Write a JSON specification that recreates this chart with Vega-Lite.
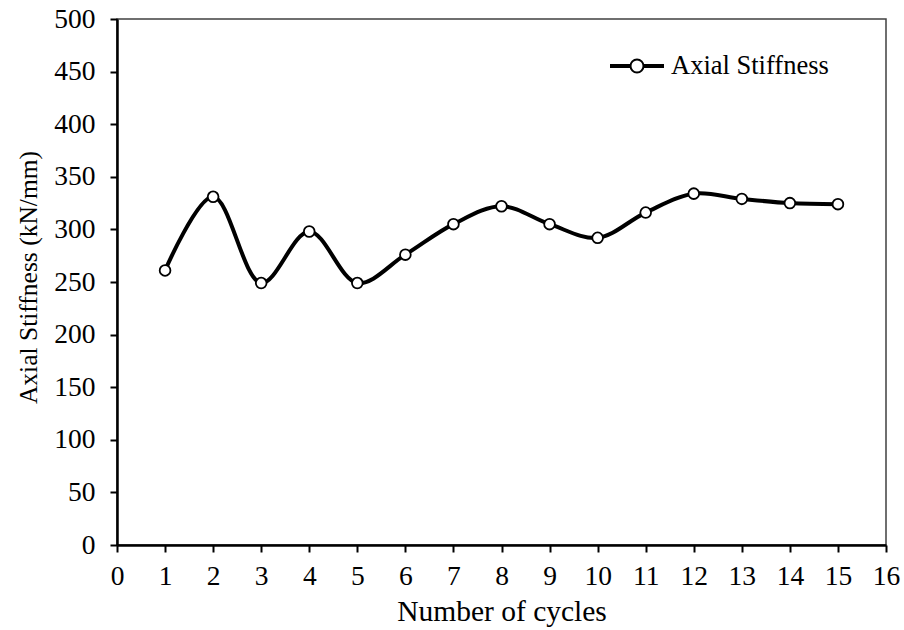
{
  "$schema": "https://vega.github.io/schema/vega-lite/v6.json",
  "width": 769,
  "height": 526,
  "autosize": "none",
  "padding": {"left": 117, "top": 19, "right": 18, "bottom": 85},
  "background": "white",
  "config": {
    "font": "Liberation Serif",
    "view": {"stroke": "#404040", "strokeWidth": 1.5},
    "axis": {
      "grid": false,
      "domainColor": "black",
      "domainWidth": 2.5,
      "tickColor": "black",
      "tickWidth": 2,
      "tickSize": 7,
      "labelColor": "black",
      "labelFont": "Liberation Serif",
      "labelFontSize": 27.5,
      "labelFlush": false,
      "labelOverlap": false,
      "titleColor": "black",
      "titleFont": "Liberation Serif",
      "titleFontWeight": "normal"
    }
  },
  "data": {
    "values": [
      {"cycle": 1, "stiffness": 261, "series": "Axial Stiffness"},
      {"cycle": 2, "stiffness": 331, "series": "Axial Stiffness"},
      {"cycle": 3, "stiffness": 249, "series": "Axial Stiffness"},
      {"cycle": 4, "stiffness": 298, "series": "Axial Stiffness"},
      {"cycle": 5, "stiffness": 249, "series": "Axial Stiffness"},
      {"cycle": 6, "stiffness": 276, "series": "Axial Stiffness"},
      {"cycle": 7, "stiffness": 305, "series": "Axial Stiffness"},
      {"cycle": 8, "stiffness": 322, "series": "Axial Stiffness"},
      {"cycle": 9, "stiffness": 305, "series": "Axial Stiffness"},
      {"cycle": 10, "stiffness": 292, "series": "Axial Stiffness"},
      {"cycle": 11, "stiffness": 316, "series": "Axial Stiffness"},
      {"cycle": 12, "stiffness": 334, "series": "Axial Stiffness"},
      {"cycle": 13, "stiffness": 329, "series": "Axial Stiffness"},
      {"cycle": 14, "stiffness": 325, "series": "Axial Stiffness"},
      {"cycle": 15, "stiffness": 324, "series": "Axial Stiffness"}
    ]
  },
  "encoding": {
    "x": {
      "field": "cycle",
      "type": "quantitative",
      "scale": {"domain": [0, 16], "nice": false, "zero": false},
      "axis": {
        "title": "Number of cycles",
        "values": [0, 1, 2, 3, 4, 5, 6, 7, 8, 9, 10, 11, 12, 13, 14, 15, 16],
        "format": "d",
        "labelPadding": 10,
        "titleFontSize": 29.5,
        "titleBaseline": "alphabetic",
        "titleY": 75
      }
    },
    "y": {
      "field": "stiffness",
      "type": "quantitative",
      "scale": {"domain": [0, 500], "nice": false},
      "axis": {
        "title": "Axial Stiffness (kN/mm)",
        "values": [0, 50, 100, 150, 200, 250, 300, 350, 400, 450, 500],
        "format": "d",
        "labelPadding": 15,
        "titleFontSize": 25.5,
        "titleAngle": -90,
        "titleBaseline": "alphabetic",
        "titleAlign": "center",
        "titleX": -81,
        "titleY": 258
      }
    }
  },
  "layer": [
    {
      "mark": {"type": "line", "interpolate": "catmull-rom", "strokeWidth": 4},
      "encoding": {
        "color": {
          "field": "series",
          "type": "nominal",
          "scale": {"range": ["black"]},
          "legend": {
            "title": null,
            "orient": "none",
            "legendX": 493,
            "legendY": 20,
            "padding": 0,
            "symbolType": "M-1,-0.04H-0.25V0.04H-1Z M0.25,-0.04H1V0.04H0.25Z M-0.25,0A0.25,0.25 0 1,0 0.25,0A0.25,0.25 0 1,0 -0.25,0",
            "symbolSize": 2704,
            "symbolStrokeWidth": 2,
            "symbolFillColor": "white",
            "symbolStrokeColor": "black",
            "labelFont": "Liberation Serif",
            "labelFontSize": 26.5,
            "labelColor": "black",
            "labelOffset": 7,
            "encode": {
              "symbols": {
                "update": {
                  "fill": {"value": "white"},
                  "stroke": {"value": "black"},
                  "strokeWidth": {"value": 2},
                  "opacity": {"value": 1}
                }
              }
            }
          }
        }
      }
    },
    {
      "mark": {
        "type": "point",
        "shape": "circle",
        "filled": true,
        "fill": "white",
        "stroke": "black",
        "strokeWidth": 1.8,
        "size": 115,
        "opacity": 1
      }
    }
  ]
}
